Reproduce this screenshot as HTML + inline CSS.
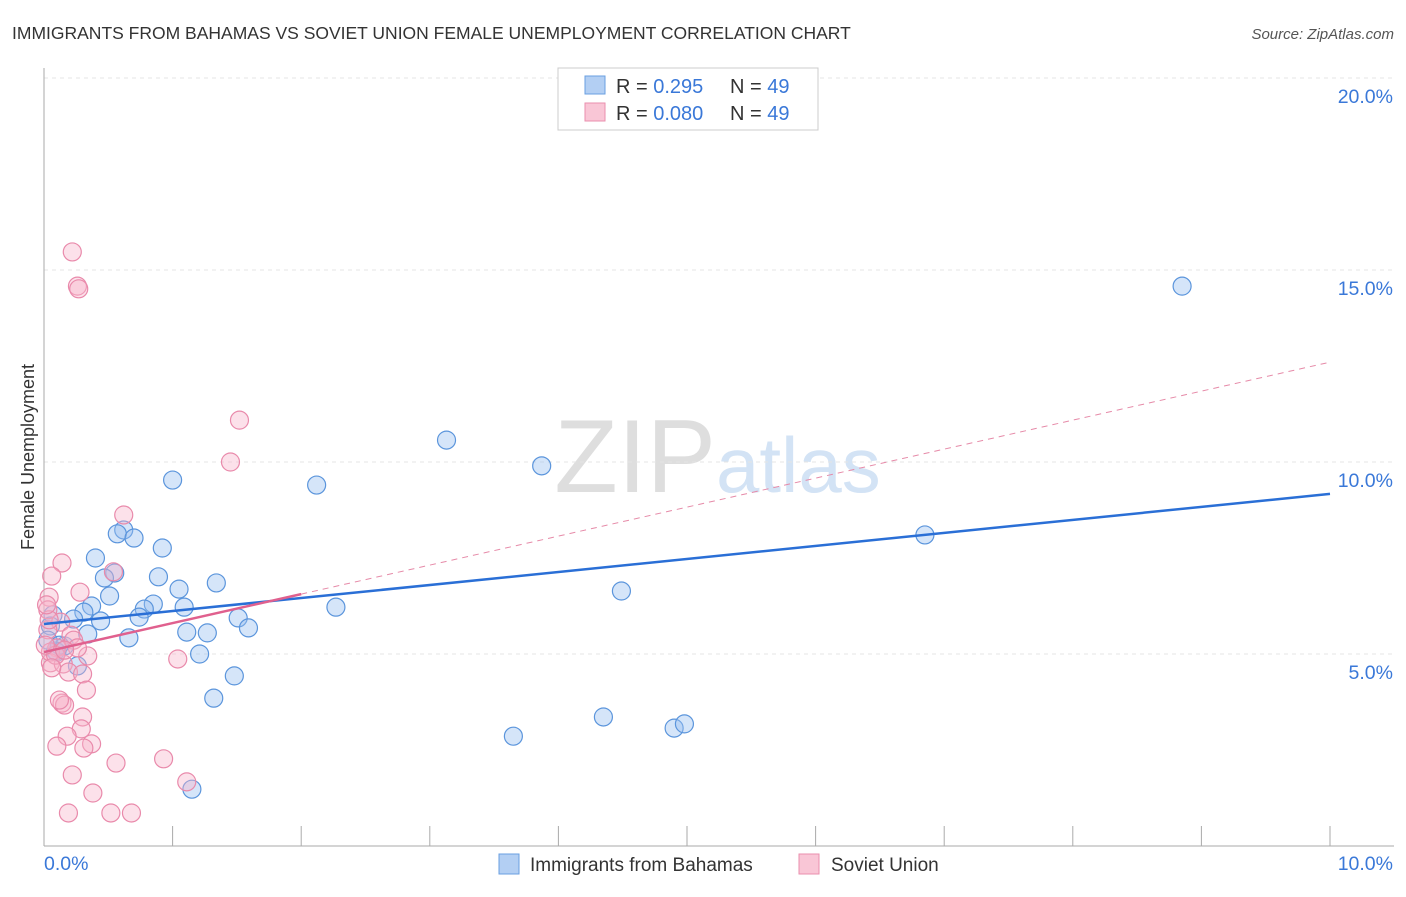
<!DOCTYPE html>
<html><head><meta charset="utf-8"><style>
body{margin:0;background:#fff;font-family:"Liberation Sans",sans-serif}
svg text{font-family:"Liberation Sans",sans-serif}
</style></head><body>
<svg id="c" width="1406" height="892" xmlns="http://www.w3.org/2000/svg">
<text x="12" y="39" font-size="17.5" fill="#333">IMMIGRANTS FROM BAHAMAS VS SOVIET UNION FEMALE UNEMPLOYMENT CORRELATION CHART</text>
<text x="1394" y="39" font-size="15" fill="#555" font-style="italic" text-anchor="end">Source: ZipAtlas.com</text>
<text x="716" y="492" font-size="104" fill="#dedede" text-anchor="end" font-family="Liberation Serif">ZIP</text>
<text x="716" y="492" font-size="78" fill="#d3e3f5">atlas</text>
<text transform="translate(34,457) rotate(-90)" font-size="18" fill="#333" text-anchor="middle">Female Unemployment</text>
<g id="grid"></g><g id="pts"></g><g id="lines"></g>
<g>
<rect x="558" y="68" width="260" height="62" fill="#fff" stroke="#ccc"/>
<rect x="585" y="76" width="20" height="18" fill="#b3cff3" stroke="#6a9fe0"/>
<rect x="585" y="103" width="20" height="18" fill="#f9c6d6" stroke="#ea8fae"/>
<text x="616" y="93" font-size="20" fill="#333">R = <tspan fill="#3a78d8">0.295</tspan><tspan x="730">N = </tspan><tspan fill="#3a78d8">49</tspan></text>
<text x="616" y="120" font-size="20" fill="#333">R = <tspan fill="#3a78d8">0.080</tspan><tspan x="730">N = </tspan><tspan fill="#3a78d8">49</tspan></text>
</g>
<g>
<rect x="499" y="854" width="20" height="20" fill="#b3cff3" stroke="#6a9fe0"/>
<text x="530" y="871" font-size="19" fill="#333">Immigrants from Bahamas</text>
<rect x="799" y="854" width="20" height="20" fill="#f9c6d6" stroke="#ea8fae"/>
<text x="831" y="871" font-size="19" fill="#333">Soviet Union</text>
</g>
</svg>
<script>
const bx=[8.85,3.13,3.87,1.00,2.12,6.85,0.62,0.57,0.70,0.92,0.40,0.55,0.47,0.89,1.34,1.05,4.49,0.51,0.37,0.85,0.78,1.09,2.27,0.31,0.74,0.44,0.23,1.51,1.59,0.07,1.11,1.27,0.34,0.66,0.05,0.16,0.10,1.21,0.26,1.48,1.32,4.35,3.65,4.90,4.98,1.15,0.09,0.03,0.12];
const by=[14.58,10.57,9.90,9.53,9.40,8.10,8.23,8.13,8.02,7.76,7.50,7.11,6.98,7.01,6.85,6.69,6.64,6.51,6.25,6.30,6.17,6.22,6.22,6.09,5.96,5.86,5.91,5.94,5.68,6.02,5.57,5.55,5.52,5.42,5.73,5.21,5.05,5.00,4.69,4.43,3.85,3.36,2.86,3.07,3.18,1.48,5.08,5.36,5.23];
const px=[0.22,0.26,0.27,1.52,1.45,0.62,0.54,0.14,0.06,0.28,0.04,0.03,0.13,0.21,0.23,0.03,0.10,0.34,0.26,0.05,0.15,0.19,0.30,1.04,0.33,0.14,0.16,0.30,0.29,0.18,0.37,0.10,0.31,0.93,0.56,0.22,1.11,0.38,0.19,0.52,0.68,0.05,0.09,0.01,0.04,0.16,0.06,0.02,0.12];
const py=[15.47,14.58,14.51,11.09,10.0,8.62,7.14,7.37,7.03,6.61,6.48,6.15,5.83,5.49,5.36,5.63,5.16,4.95,5.16,4.77,4.74,4.53,4.48,4.87,4.06,3.72,3.67,3.36,3.05,2.86,2.66,2.60,2.55,2.27,2.16,1.85,1.67,1.38,0.86,0.86,0.86,5.05,4.97,5.23,5.89,5.10,4.64,6.28,3.80];
const blueTrend=[5.78,9.17];
const pinkTrend=[5.05,12.6];
const pinkSolidEnd=2.0;
const yTicks=[5,10,15,20];
const yTickLabels=["5.0%","10.0%","15.0%","20.0%"];
const xTicks=[1,2,3,4,5,6,7,8,9,10];
const NS="http://www.w3.org/2000/svg";
const X=v=>44+v*128.6, Y=v=>846-v*38.4;
function mk(t,a,p){const e=document.createElementNS(NS,t);for(const k in a)e.setAttribute(k,a[k]);p.appendChild(e);return e;}
const g=document.getElementById('grid');
yTicks.forEach((t,i)=>{
 const l=mk('line',{x1:44,x2:1394,y1:Y(t),y2:Y(t),stroke:'#e4e4e4','stroke-dasharray':'4,4'},g);
 
 
 const tx=mk('text',{x:1393,y:Y(t)+25,'font-size':19.5,fill:'#3a78d8','text-anchor':'end'},g);
 tx.textContent=yTickLabels[i];
 
 
});
mk('line',{x1:44,x2:44,y1:68,y2:846,stroke:'#aaa'},g);
mk('line',{x1:44,x2:1394,y1:846,y2:846,stroke:'#aaa'},g);
xTicks.forEach(t=>{const l=mk('line',{x1:X(t),x2:X(t),y1:826,y2:846,stroke:'#aaa'},g);
 
 });
let t0=mk('text',{x:44,y:870,'font-size':19.5,fill:'#3a78d8'},g);t0.textContent='0.0%';


let t1=mk('text',{x:1393,y:870,'font-size':19.5,fill:'#3a78d8','text-anchor':'end'},g);t1.textContent='10.0%';


const pg=document.getElementById('pts');
bx.forEach((v,i)=>{const c=mk('circle',{cx:X(v),cy:Y(by[i]),r:9,fill:'rgba(150,190,240,0.4)',stroke:'#5b95dc','stroke-width':1.2},pg);
 
 });
px.forEach((v,i)=>{const c=mk('circle',{cx:X(v),cy:Y(py[i]),r:9,fill:'rgba(247,180,202,0.4)',stroke:'#e98aab','stroke-width':1.2},pg);
 
 });
const lg=document.getElementById('lines');
const pAt=x=>pinkTrend[0]+(pinkTrend[1]-pinkTrend[0])*x/10;
let d=mk('line',{x1:X(pinkSolidEnd),y1:Y(pAt(pinkSolidEnd)),x2:X(10),y2:Y(pinkTrend[1]),stroke:'#e68aa8','stroke-width':1,'stroke-dasharray':'6,5'},lg);


let b=mk('line',{x1:X(0),y1:Y(blueTrend[0]),x2:X(10),y2:Y(blueTrend[1]),stroke:'#2a6fd6','stroke-width':2.5},lg);


let p=mk('line',{x1:X(0),y1:Y(pinkTrend[0]),x2:X(pinkSolidEnd),y2:Y(pAt(pinkSolidEnd)),stroke:'#e0608e','stroke-width':2.5},lg);


</script>
</body></html>
